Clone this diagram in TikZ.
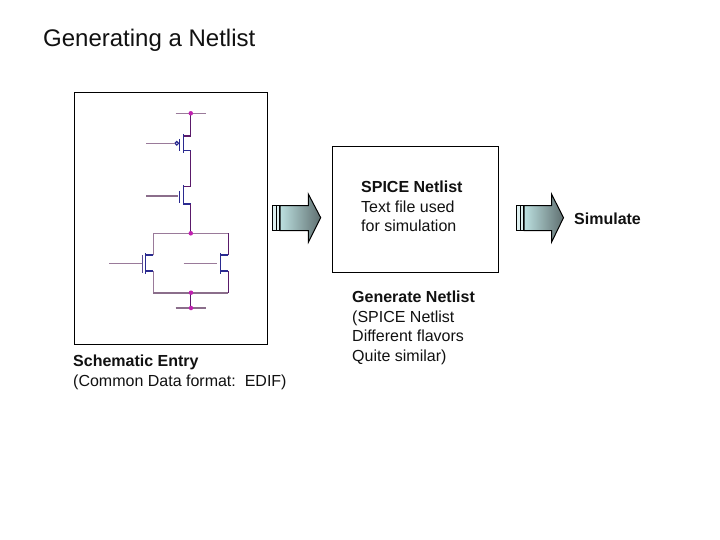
\documentclass[tikz,border=0pt]{standalone}
\usepackage{fontspec}
\setmainfont{Liberation Sans}
\definecolor{wirep}{HTML}{9A7A9A}
\definecolor{wired}{HTML}{5A1A6A}
\definecolor{mos}{HTML}{2A2A90}
\definecolor{dotc}{HTML}{C020B0}
\definecolor{txt}{HTML}{111111}
\definecolor{aqualight}{HTML}{BCE0E0}
\definecolor{aquamid}{HTML}{7F9FA0}
\definecolor{aquadark}{HTML}{5F6F70}
\tikzset{
  frame/.style={draw=black,line width=1pt,fill=white},
  rail/.style={draw=wirep,line width=1.2pt},
  railthick/.style={draw=wirep!90!black,line width=2pt},
  drop/.style={draw=wired,line width=1.2pt},
  device/.style={draw=mos,line width=1.2pt},
  devicesoft/.style={draw=mos!60!wirep,line width=1.2pt},
  pin/.style={circle,fill=dotc,inner sep=0pt,minimum size=4.5pt},
  label/.style={anchor=north west,inner sep=0pt,align=left,font=\fontsize{16}{19.6}\selectfont,text=txt},
  arrowshape/.style={draw=black,line width=1pt,left color=aqualight,middle color=aquamid,right color=aquadark},
  strip/.style={draw=black,line width=1.2pt,fill=aqualight!50!white},
}
\begin{document}
\begin{tikzpicture}[x=1pt,y=-1pt]
\useasboundingbox (0,0) rectangle (720,540);
\fill[white] (0,0) rectangle (720,540);
\node[anchor=base west,inner sep=0pt,font=\fontsize{24}{28}\selectfont,text=txt] (title) at (43,47) {Generating a Netlist};
% schematic frame
\draw[frame] (74,92.5) rectangle (267,344.5);
% supply rail and stack
\draw[rail] (175.7,113.3) -- (205.7,113.3);
\draw[drop] (190.5,113.3) -- (190.5,136) -- (183.3,136);
\draw[device] (183.3,134) -- (183.3,152.7);
\draw[device] (183.3,150.7) -- (190.5,150.7);
\draw[drop] (190.5,150.7) -- (190.5,186.7) -- (183.3,186.7);
\draw[device] (179.3,139) -- (179.3,151);
\draw[device] (176.8,143.3) circle (1.8);
\draw[rail] (146,143.3) -- (175,143.3);
\draw[device] (183.3,185) -- (183.3,205);
\draw[device] (179.3,191) -- (179.3,203);
\draw[device] (183.3,204) -- (190.5,204);
\draw[drop] (190.5,204) -- (190.5,233.3);
\draw[railthick] (146,196) -- (178,196);
% parallel pair
\draw[rail] (153.3,255) -- (153.3,233.3) -- (228.3,233.3);
\draw[drop] (228.3,233.3) -- (228.3,255);
\draw[device] (228.3,255) -- (220.3,255);
\draw[device] (220.3,253) -- (220.3,274);
\draw[device] (220.3,271) -- (228.3,271);
\draw[drop] (228.3,271) -- (228.3,292.7);
\draw[rail] (183.7,263.3) -- (217,263.3);
\draw[device] (153.3,255) -- (145.7,255);
\draw[device] (145.7,253) -- (145.7,274);
\draw[device] (145.7,271) -- (153.3,271);
\draw[devicesoft] (142.7,255) -- (142.7,273);
\draw[rail] (109,263.3) -- (142,263.3);
\draw[rail] (153.3,271) -- (153.3,292.7);
\draw[railthick] (153.3,292.7) -- (228.3,292.7);
\draw[drop] (190.5,292.7) -- (190.5,308);
\draw[railthick] (175.7,308) -- (205.7,308);
\node[pin] (p1) at (190.8,113.3) {};
\node[pin] (p2) at (190.8,233.3) {};
\node[pin] (p3) at (191,292.7) {};
\node[pin] (p4) at (191,308) {};
% labels
\node[label] (entry) at (73,355) {\textbf{Schematic Entry}\\(Common Data format:\ \ EDIF)};
% first arrow
\draw[strip] (272.5,205.7) rectangle (279.3,230.7);
\draw[black,line width=1pt] (276,205.7) -- (276,230.7);
\draw[arrowshape] (280,205.7) -- (308.3,205.7) -- (308.3,194) -- (320.7,217.7) -- (308.3,242.3) -- (308.3,230.7) -- (280,230.7) -- cycle;
% netlist box
\draw[frame] (332.5,146.5) rectangle (498,272);
\node[label] (spice) at (361,181) {\textbf{SPICE Netlist}\\Text file used\\for simulation};
\node[label] (gen) at (352,291) {\textbf{Generate Netlist}\\(SPICE Netlist\\Different flavors\\Quite similar)};
% second arrow
\draw[strip] (516.5,205.7) rectangle (523.3,230.7);
\draw[black,line width=1pt] (520,205.7) -- (520,230.7);
\draw[arrowshape] (524,205.7) -- (551.5,205.7) -- (551.5,194) -- (563.5,217.7) -- (551.5,242.3) -- (551.5,230.7) -- (524,230.7) -- cycle;
\node[label,font=\fontsize{16}{19.6}\selectfont\bfseries] (sim) at (574,213) {Simulate};
\end{tikzpicture}
\end{document}
